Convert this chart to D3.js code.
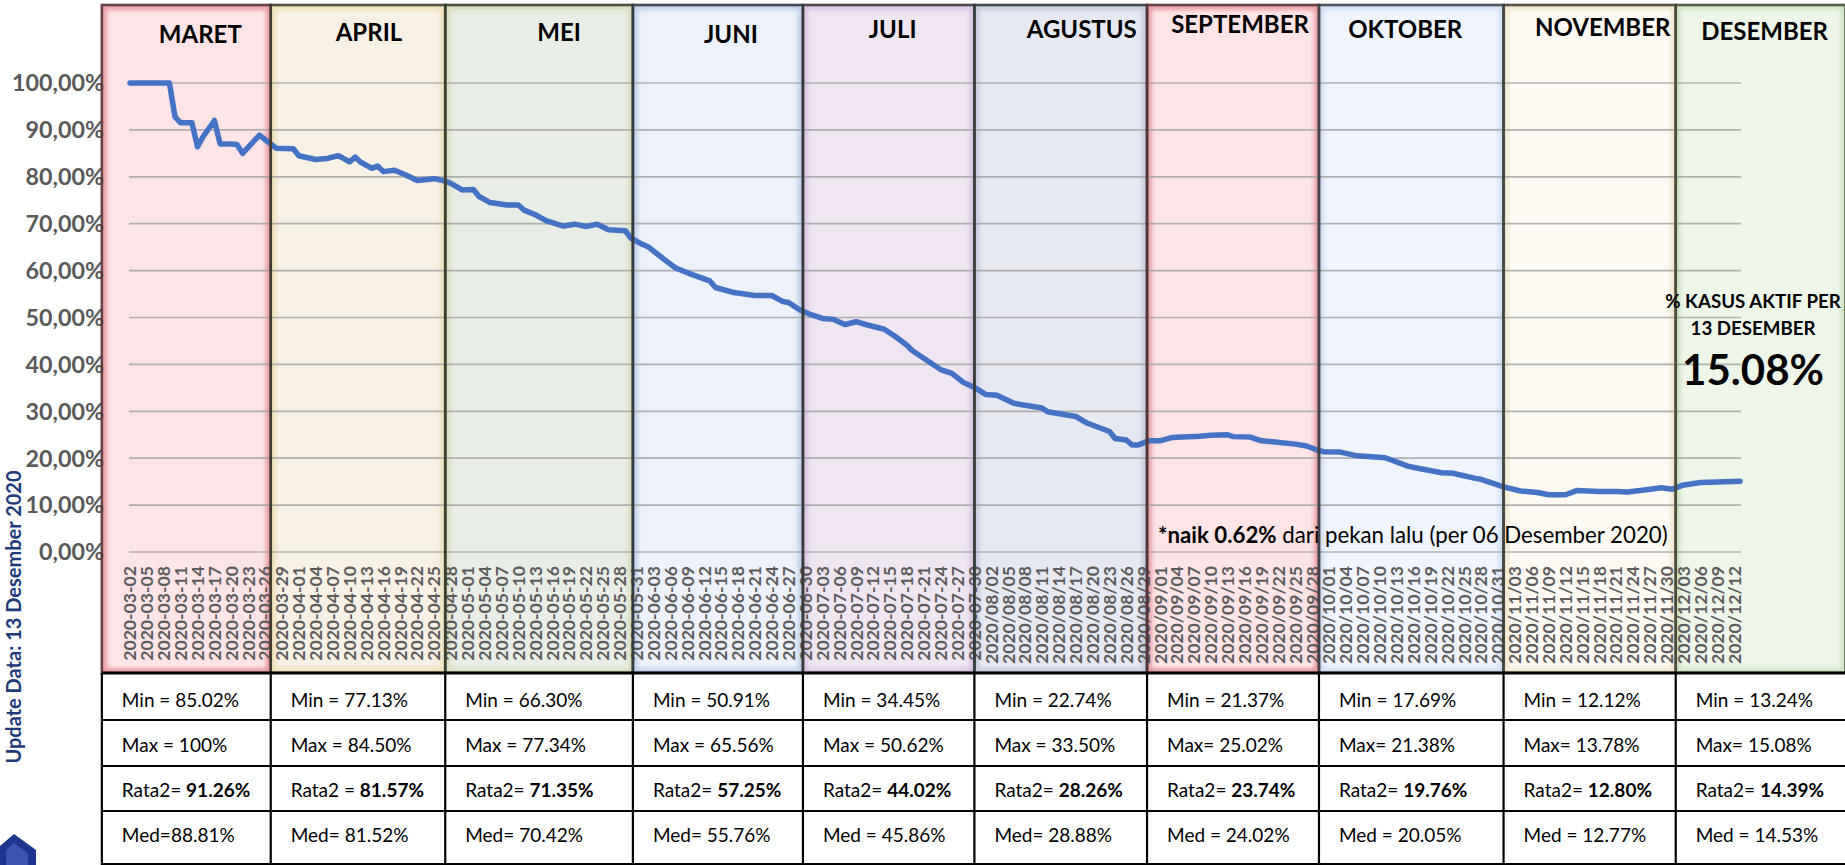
<!DOCTYPE html>
<html><head><meta charset="utf-8">
<script src="https://cdn.jsdelivr.net/npm/d3@7"></script>
<style>
html,body{margin:0;padding:0;background:#fff;overflow:hidden}
svg{display:block}
text{font-family:Lato,"Open Sans",sans-serif;white-space:pre}
</style></head><body>
<svg id="chart" width="1845" height="865"></svg>
<script>
// ---------- DATA ----------
const seriesDates = ["2020-03-02","2020-03-09","2020-03-10","2020-03-11","2020-03-13","2020-03-14","2020-03-15","2020-03-17","2020-03-18","2020-03-20","2020-03-21","2020-03-22","2020-03-25","2020-03-27","2020-03-28","2020-03-31",
"2020-04-01","2020-04-04","2020-04-06","2020-04-08","2020-04-10","2020-04-11","2020-04-12","2020-04-14","2020-04-15","2020-04-16","2020-04-18","2020-04-20","2020-04-22","2020-04-25","2020-04-27","2020-04-28","2020-04-30",
"2020-05-02","2020-05-03","2020-05-05","2020-05-08","2020-05-10","2020-05-11","2020-05-13","2020-05-15","2020-05-18","2020-05-20","2020-05-22","2020-05-24","2020-05-26","2020-05-29","2020-05-30",
"2020-06-01","2020-06-02","2020-06-05","2020-06-07","2020-06-10","2020-06-13","2020-06-14","2020-06-17","2020-06-21","2020-06-24","2020-06-26","2020-06-27","2020-06-29",
"2020-07-01","2020-07-03","2020-07-05","2020-07-07","2020-07-09","2020-07-11","2020-07-14","2020-07-16","2020-07-18","2020-07-19","2020-07-21","2020-07-24","2020-07-26","2020-07-28","2020-07-30",
"2020-08-01","2020-08-03","2020-08-06","2020-08-11","2020-08-12","2020-08-17","2020-08-19","2020-08-21","2020-08-23","2020-08-24","2020-08-26","2020-08-27","2020-08-28","2020-08-30",
"2020-09-01","2020-09-03","2020-09-08","2020-09-10","2020-09-13","2020-09-14","2020-09-17","2020-09-19","2020-09-21","2020-09-25","2020-09-27","2020-09-29","2020-09-30",
"2020-10-03","2020-10-06","2020-10-11","2020-10-15","2020-10-17","2020-10-21","2020-10-23","2020-10-27","2020-10-28",
"2020-11-01","2020-11-04","2020-11-07","2020-11-09","2020-11-12","2020-11-14","2020-11-18","2020-11-21","2020-11-23","2020-11-26","2020-11-29",
"2020-12-01","2020-12-03","2020-12-06","2020-12-09","2020-12-13"];
const seriesValues = [100,100,92.8,91.5,91.5,86.4,88.6,92.0,87.0,87.0,86.9,85.0,88.9,87.0,86.1,86.0,
84.5,83.7,83.9,84.5,83.2,84.2,83.1,81.8,82.3,81.1,81.4,80.4,79.2,79.6,79.1,78.6,77.2,
77.3,75.8,74.5,74.0,74.0,72.9,71.9,70.6,69.5,69.9,69.4,69.9,68.7,68.5,66.9,
65.6,65.1,62.3,60.5,59.1,57.8,56.4,55.4,54.7,54.7,53.4,53.2,51.6,
50.6,49.8,49.6,48.5,49.1,48.4,47.5,45.9,44.1,42.9,41.3,38.9,38.1,36.2,35.1,
33.6,33.4,31.7,30.7,29.9,28.9,27.5,26.6,25.7,24.2,23.9,22.8,22.8,23.7,
23.7,24.4,24.7,24.9,25.0,24.6,24.5,23.7,23.5,23.0,22.6,21.7,21.4,
21.3,20.5,20.1,18.3,17.8,16.9,16.8,15.7,15.5,
13.9,13.0,12.7,12.2,12.2,13.1,12.9,12.9,12.8,13.2,13.7,
13.4,14.3,14.8,14.9,15.08];

const tickLabels = ["2020-03-02","2020-03-05","2020-03-08","2020-03-11","2020-03-14","2020-03-17","2020-03-20","2020-03-23","2020-03-26","2020-03-29",
"2020-04-01","2020-04-04","2020-04-07","2020-04-10","2020-04-13","2020-04-16","2020-04-19","2020-04-22","2020-04-25","2020-04-28",
"2020-05-01","2020-05-04","2020-05-07","2020-05-10","2020-05-13","2020-05-16","2020-05-19","2020-05-22","2020-05-25","2020-05-28","2020-05-31",
"2020-06-03","2020-06-06","2020-06-09","2020-06-12","2020-06-15","2020-06-18","2020-06-21","2020-06-24","2020-06-27","2020-06-30",
"2020-07-03","2020-07-06","2020-07-09","2020-07-12","2020-07-15","2020-07-18","2020-07-21","2020-07-24","2020-07-27","2020-07-30",
"2020/08/02","2020/08/05","2020/08/08","2020/08/11","2020/08/14","2020/08/17","2020/08/20","2020/08/23","2020/08/26","2020/08/29",
"2020/09/01","2020/09/04","2020/09/07","2020/09/10","2020/09/13","2020/09/16","2020/09/19","2020/09/22","2020/09/25","2020/09/28",
"2020/10/01","2020/10/04","2020/10/07","2020/10/10","2020/10/13","2020/10/16","2020/10/19","2020/10/22","2020/10/25","2020/10/28","2020/10/31",
"2020/11/03","2020/11/06","2020/11/09","2020/11/12","2020/11/15","2020/11/18","2020/11/21","2020/11/24","2020/11/27","2020/11/30",
"2020/12/03","2020/12/06","2020/12/09","2020/12/12"];

const yTicks = [0,10,20,30,40,50,60,70,80,90,100];
const months = ["MARET","APRIL","MEI","JUNI","JULI","AGUSTUS","SEPTEMBER","OKTOBER","NOVEMBER","DESEMBER"];
const panelStarts = ["2020-02-26T00:00","2020-03-27T00:00","2020-04-27T00:00","2020-05-30T08:00","2020-06-29T13:00","2020-07-30T00:00","2020-08-29T16:00","2020-09-29T05:00","2020-11-01T00:00","2020-12-01T14:00"];
const panelEnd = "2020-12-31T18:00";

const minVals  = ["85.02","77.13","66.30","50.91","34.45","22.74","21.37","17.69","12.12","13.24"];
const maxVals  = ["100","84.50","77.34","65.56","50.62","33.50","25.02","21.38","13.78","15.08"];
const meanVals = ["91.26","81.57","71.35","57.25","44.02","28.26","23.74","19.76","12.80","14.39"];
const medVals  = ["88.81","81.52","70.42","55.76","45.86","28.88","24.02","20.05","12.77","14.53"];
const minPrefix  = ["Min = ","Min = ","Min = ","Min = ","Min = ","Min = ","Min = ","Min = ","Min = ","Min = "];
const maxPrefix  = ["Max = ","Max = ","Max = ","Max = ","Max = ","Max = ","Max= ","Max= ","Max= ","Max= "];
const meanPrefix = ["Rata2= ","Rata2 = ","Rata2= ","Rata2= ","Rata2= ","Rata2= ","Rata2= ","Rata2= ","Rata2= ","Rata2= "];
const medPrefix  = ["Med=","Med= ","Med= ","Med= ","Med = ","Med= ","Med = ","Med = ","Med = ","Med = "];

// ---------- STYLE / LAYOUT ----------
const panelFill = ["#fce4e7","#f7f0e4","#e8eee5","#ecf1fa","#efe6f2","#e6e9f1","#fde5e7","#f0f5fd","#fcfaf3","#eef6ea"];
const panelGlow = ["#e07480","#e8d79c","#cfd6a6","#a6bde0","#cdb0da","#b0b8d0","#e07480","#bdd0ee","#e6d8b4","#bcd8aa"];
const panelEdge = ["#5a3234","#403c2e","#363d2e","#323a40","#363a38","#323838","#5a3234","#40424a","#40403a","#4a4a3c"];
const titleDx = [14,11,20,13,4,21,7,-6,13,4];
const titleY  = [43,41,41,43,38,38,33,38,36,40];

const parse = d3.isoParse;
const svg = d3.select("#chart");
const x = d3.scaleTime().domain([parse("2020-03-02"), parse("2020-12-13")]).range([130, 1740]);
const y = d3.scaleLinear().domain([0, 100]).range([552, 83]);
const panelTop = 5, panelBottom = 673, tableBottom = 865;

function fitWidth(sel, w) {
  const cur = sel.node().getComputedTextLength();
  const fs = parseFloat(sel.attr("font-size"));
  sel.attr("font-size", fs * w / cur);
}

const defs = svg.append("defs");
const f = defs.append("filter").attr("id","glow").attr("x","-20%").attr("y","-5%").attr("width","140%").attr("height","110%");
f.append("feGaussianBlur").attr("stdDeviation",2.2);

const bounds = panelStarts.map(parse).concat([parse(panelEnd)]).map(d => x(d));
const panels = months.map((m,i) => ({m, i, x0: bounds[i], x1: bounds[i+1]}));

// panel fills + inner glow
const pg = svg.append("g");
panels.forEach(p => {
  const cid = "clip" + p.i;
  defs.append("clipPath").attr("id", cid).append("rect")
    .attr("x", p.x0).attr("y", panelTop).attr("width", p.x1 - p.x0).attr("height", panelBottom - panelTop);
  pg.append("rect").attr("x", p.x0).attr("y", panelTop).attr("width", p.x1 - p.x0).attr("height", panelBottom - panelTop)
    .attr("fill", panelFill[p.i]);
  pg.append("g").attr("clip-path", `url(#${cid})`).append("rect")
    .attr("x", p.x0 + 2).attr("y", panelTop + 2).attr("width", p.x1 - p.x0 - 4).attr("height", panelBottom - panelTop - 4)
    .attr("fill", "none").attr("stroke", panelGlow[p.i]).attr("stroke-width", 5).attr("opacity", 0.75)
    .attr("filter", "url(#glow)");
});

// gridlines
svg.append("g").selectAll("line").data(yTicks).join("line")
  .attr("x1", 129).attr("x2", 1741).attr("y1", d => y(d)).attr("y2", d => y(d))
  .attr("stroke", "#a0a0a0").attr("stroke-opacity", 0.8).attr("stroke-width", 1.7);

// y labels
const yFmt = v => v.toFixed(2).replace(".", ",") + "%";
const yl = svg.append("g").selectAll("text").data(yTicks).join("text")
  .attr("x", 104).attr("y", d => y(d)).attr("dy", "0.36em").attr("text-anchor", "end")
  .attr("font-size", 22.5).attr("font-weight", 700).attr("fill", "#595959")
  .text(yFmt);
{
  const top = yl.filter(d => d === 100);
  const cur = top.node().getComputedTextLength();
  yl.attr("font-size", 22.5 * 92 / cur);
}

// x labels
svg.append("g").selectAll("text").data(tickLabels).join("text")
  .attr("transform", d => `translate(${x(parse(d.replace(/\//g, "-")))},566) rotate(-90)`)
  .attr("text-anchor", "end").attr("dy", "0.36em")
  .attr("font-size", 17.6).attr("font-weight", 700).attr("fill", "#5c5c5c")
  .text(d => d);

// line
const data = seriesDates.map((d, i) => ({date: parse(d), v: seriesValues[i]}));
svg.append("path").datum(data)
  .attr("d", d3.line().x(d => x(d.date)).y(d => y(d.v)))
  .attr("fill", "none").attr("stroke", "#4472c4").attr("stroke-width", 5.5)
  .attr("stroke-linejoin", "round").attr("stroke-linecap", "round");

// panel borders
panels.forEach(p => {
  svg.append("rect").attr("x", p.x0).attr("y", panelTop).attr("width", p.x1 - p.x0).attr("height", panelBottom - panelTop)
    .attr("fill", "none").attr("stroke", panelEdge[p.i]).attr("stroke-width", 2.6).attr("opacity", 0.9);
});

// month titles
svg.append("g").selectAll("text").data(panels).join("text")
  .attr("x", p => (p.x0 + p.x1) / 2 + titleDx[p.i]).attr("y", p => titleY[p.i])
  .attr("text-anchor", "middle").attr("font-size", 24).attr("font-weight", 700).attr("fill", "#000")
  .text(p => p.m);

// annotations
const note = svg.append("text").attr("x", 1158).attr("y", 543).attr("font-size", 20).attr("fill", "#000");
note.append("tspan").attr("font-weight", 700).text("*naik 0.62%");
note.append("tspan").text(" dari pekan lalu (per 06 Desember 2020)");
fitWidth(note, 510);

const cx = 1753;
svg.append("text").attr("x", cx).attr("y", 308).attr("text-anchor", "middle").attr("font-size", 18.7).attr("font-weight", 700).text("% KASUS AKTIF PER");
svg.append("text").attr("x", cx).attr("y", 335).attr("text-anchor", "middle").attr("font-size", 18.7).attr("font-weight", 700).text("13 DESEMBER");
svg.append("text").attr("x", cx).attr("y", 385).attr("text-anchor", "middle").attr("font-size", 42).attr("font-weight", 700).text("15.08%");

// side label + logo
svg.append("text").attr("transform", "translate(21,617) rotate(-90)").attr("text-anchor", "middle")
  .attr("font-size", 20).attr("font-weight", 700).attr("fill", "#1f3a7a").text("Update Data: 13 Desember 2020");
svg.append("path").attr("d", "M0,865 L0,846 L14,834 L36,850 L36,865 Z").attr("fill", "#1f3590");
svg.append("path").attr("d", "M6,865 L6,850 L14,843 L28,853 L28,865 Z").attr("fill", "#3a56b0");

// ---------- TABLE ----------
const tg = svg.append("g");
const colX = bounds.slice(0, 10).concat([1845]);
tg.append("rect").attr("x", colX[0]).attr("y", panelBottom).attr("width", 1845 - colX[0]).attr("height", tableBottom - panelBottom).attr("fill", "#fff");
const rowY = [panelBottom, 720, 766, 811, 864];
tg.selectAll("line.h").data(rowY).join("line").attr("class", "h")
  .attr("x1", colX[0]).attr("x2", 1845).attr("y1", d => d).attr("y2", d => d)
  .attr("stroke", "#000").attr("stroke-width", (d, i) => i === 0 ? 3 : 2.2);
tg.selectAll("line.v").data(colX.slice(0, 10)).join("line").attr("class", "v")
  .attr("x1", d => d).attr("x2", d => d).attr("y1", panelBottom).attr("y2", tableBottom)
  .attr("stroke", "#000").attr("stroke-width", 2.2);

const rows = [
  {pre: minPrefix, val: minVals, bold: false},
  {pre: maxPrefix, val: maxVals, bold: false},
  {pre: meanPrefix, val: meanVals, bold: true},
  {pre: medPrefix, val: medVals, bold: false}
];
const rowBase = [707, 752, 797, 842];
rows.forEach((r, ri) => {
  months.forEach((m, ci) => {
    const t = tg.append("text").attr("x", colX[ci] + 20).attr("y", rowBase[ri]).attr("font-size", 19).attr("fill", "#000");
    t.append("tspan").text(r.pre[ci]);
    t.append("tspan").attr("font-weight", r.bold ? 700 : 400).text(r.val[ci] + "%");
  });
});
</script>
</body></html>
